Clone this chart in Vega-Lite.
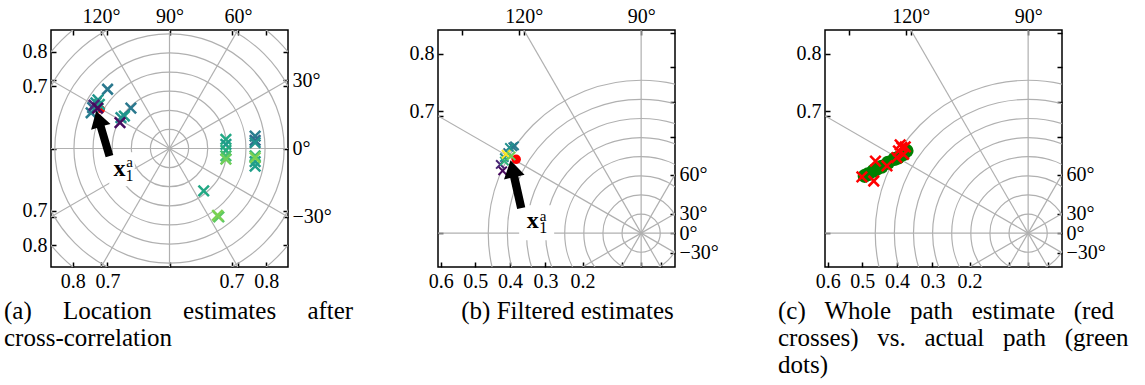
{
  "$schema": "https://vega.github.io/schema/vega-lite/v6.json",
  "background": "white",
  "padding": {"left": 3, "top": 5, "right": 0, "bottom": 0},
  "bounds": "flush",
  "spacing": 150,
  "datasets": {
    "rings": [{"r": 0.1}, {"r": 0.2}, {"r": 0.3}, {"r": 0.4}, {"r": 0.5}, {"r": 0.6}, {"r": 0.7}, {"r": 0.8}],
    "rays": [
      {"deg": 0, "ox": 0, "oy": 0, "ex": 1.2, "ey": 0}, {"deg": 30, "ox": 0, "oy": 0, "ex": 1.0392, "ey": 0.6},
      {"deg": 60, "ox": 0, "oy": 0, "ex": 0.6, "ey": 1.0392}, {"deg": 90, "ox": 0, "oy": 0, "ex": 0, "ey": 1.2},
      {"deg": 120, "ox": 0, "oy": 0, "ex": -0.6, "ey": 1.0392}, {"deg": 150, "ox": 0, "oy": 0, "ex": -1.0392, "ey": 0.6},
      {"deg": 180, "ox": 0, "oy": 0, "ex": -1.2, "ey": 0}, {"deg": 210, "ox": 0, "oy": 0, "ex": -1.0392, "ey": -0.6},
      {"deg": 240, "ox": 0, "oy": 0, "ex": -0.6, "ey": -1.0392}, {"deg": 270, "ox": 0, "oy": 0, "ex": 0, "ey": -1.2},
      {"deg": 300, "ox": 0, "oy": 0, "ex": 0.6, "ey": -1.0392}, {"deg": 330, "ox": 0, "oy": 0, "ex": 1.0392, "ey": -0.6}
    ],
    "crossesA": [
      {"x": -0.385, "y": 0.239, "t": 0.5}, {"x": -0.324, "y": 0.31, "t": 0.4}, {"x": -0.402, "y": 0.214, "t": 0.38},
      {"x": -0.41, "y": 0.187, "t": 0.42}, {"x": -0.367, "y": 0.231, "t": 0.58}, {"x": -0.374, "y": 0.254, "t": 0.52},
      {"x": -0.395, "y": 0.227, "t": 0.1}, {"x": -0.376, "y": 0.211, "t": 0.02},
      {"x": -0.202, "y": 0.211, "t": 0.4}, {"x": -0.236, "y": 0.17, "t": 0.55}, {"x": -0.254, "y": 0.161, "t": 0.5},
      {"x": -0.259, "y": 0.135, "t": 0.03},
      {"x": 0.295, "y": 0.048, "t": 0.6}, {"x": 0.295, "y": 0.022, "t": 0.55}, {"x": 0.295, "y": -0.01, "t": 0.62},
      {"x": 0.295, "y": -0.039, "t": 0.7}, {"x": 0.295, "y": -0.056, "t": 0.78},
      {"x": 0.448, "y": 0.065, "t": 0.42}, {"x": 0.448, "y": 0.043, "t": 0.33}, {"x": 0.448, "y": 0.031, "t": 0.5},
      {"x": 0.448, "y": -0.069, "t": 0.55}, {"x": 0.448, "y": -0.092, "t": 0.56}, {"x": 0.448, "y": -0.039, "t": 0.68},
      {"x": 0.448, "y": -0.048, "t": 0.8},
      {"x": 0.179, "y": -0.222, "t": 0.6}, {"x": 0.258, "y": -0.358, "t": 0.75}, {"x": 0.251, "y": -0.35, "t": 0.8}
    ],
    "truthA": [{"x": -0.358, "y": 0.205}],
    "noteA": [{"x": -0.2485, "y": -0.1083}],
    "arrowA": [{"x": -0.349, "y": 0.0784}],
    "crossesB": [
      {"x": -0.409, "y": 0.184, "t": 0.02}, {"x": -0.416, "y": 0.203, "t": 0.1}, {"x": -0.404, "y": 0.223, "t": 0.5},
      {"x": -0.394, "y": 0.238, "t": 0.35}, {"x": -0.379, "y": 0.255, "t": 0.4}, {"x": -0.374, "y": 0.258, "t": 0.42},
      {"x": -0.389, "y": 0.253, "t": 0.5}, {"x": -0.404, "y": 0.213, "t": 0.65}, {"x": -0.399, "y": 0.233, "t": 1.0},
      {"x": -0.384, "y": 0.228, "t": 0.78}
    ],
    "truthB": [{"x": -0.369, "y": 0.218}],
    "noteB": [{"x": -0.3086, "y": 0.0304}],
    "arrowB": [{"x": -0.37, "y": 0.1444}],
    "pathActual": [
      {"x": -0.483, "y": 0.169}, {"x": -0.473, "y": 0.174}, {"x": -0.457, "y": 0.184}, {"x": -0.448, "y": 0.189},
      {"x": -0.433, "y": 0.196}, {"x": -0.414, "y": 0.208}, {"x": -0.395, "y": 0.219}, {"x": -0.384, "y": 0.223},
      {"x": -0.369, "y": 0.233}, {"x": -0.359, "y": 0.243}
    ],
    "pathEstimate": [
      {"x": -0.491, "y": 0.166}, {"x": -0.456, "y": 0.154}, {"x": -0.451, "y": 0.213}, {"x": -0.417, "y": 0.199},
      {"x": -0.388, "y": 0.223}, {"x": -0.373, "y": 0.253}, {"x": -0.368, "y": 0.233}, {"x": -0.378, "y": 0.261},
      {"x": -0.363, "y": 0.255}, {"x": -0.383, "y": 0.243}
    ]
  },
  "hconcat": [
    {
      "width": 237,
      "height": 237,
      "title": {
        "text": ["(a)\u00a0\u00a0\u00a0\u00a0\u00a0Location\u00a0\u00a0\u00a0\u00a0\u00a0estimates\u00a0\u00a0\u00a0\u00a0\u00a0after", "cross-correlation"],
        "anchor": "start", "dx": -47,
        "font": "Liberation Serif, DejaVu Serif, serif", "fontSize": 25, "fontWeight": "normal", "color": "black", "orient": "bottom", "frame": "group", "lineHeight": 27, "offset": 8
      },
      "layer": [
        {
          "data": {"name": "rings"},
          "mark": {"type": "point", "shape": "circle", "filled": false, "stroke": "#b0b0b0", "strokeWidth": 1.2, "opacity": 1, "clip": true},
          "encoding": {
            "x": {"datum": 0, "type": "quantitative", "scale": {"domain": [-0.62, 0.62], "nice": false, "zero": false},
              "axis": {"orient": "bottom", "title": null, "labelFont": "Liberation Serif, DejaVu Serif, serif", "labelFontSize": 20, "values": [-0.5056, -0.358, -0.325, 0, 0.325, 0.358, 0.5056],
                "labelExpr": "abs(datum.value) == 0.5056 ? '0.8' : abs(datum.value) == 0.325 ? '0.7' : ''"}},
            "y": {"datum": 0, "type": "quantitative", "scale": {"domain": [-0.62, 0.62], "nice": false, "zero": false},
              "axis": {"orient": "left", "title": null, "labelFont": "Liberation Serif, DejaVu Serif, serif", "labelFontSize": 20, "values": [-0.5056, -0.358, -0.325, 0, 0.325, 0.358, 0.5056],
                "labelExpr": "abs(datum.value) == 0.5056 ? '0.8' : abs(datum.value) == 0.325 ? '0.7' : ''"}},
            "size": {"field": "r", "type": "quantitative", "legend": null,
              "scale": {"type": "pow", "exponent": 2, "domain": [0, 1], "range": [0, 146078]}}
          }
        },
        {
          "data": {"name": "rays"},
          "mark": {"type": "rule", "stroke": "#b0b0b0", "strokeWidth": 1.2, "clip": true},
          "encoding": {
            "x": {"field": "ox", "type": "quantitative", "scale": {"domain": [-0.62, 0.62], "nice": false, "zero": false},
              "axis": {"orient": "top", "title": null, "labelFont": "Liberation Serif, DejaVu Serif, serif", "labelFontSize": 20, "values": [-0.5056, -0.358, -0.325, 0, 0.325, 0.358, 0.5056],
                "labelExpr": "datum.value == -0.358 ? '120°' : datum.value == 0 ? '90°' : datum.value == 0.358 ? '60°' : ''"}},
            "y": {"field": "oy", "type": "quantitative", "scale": {"domain": [-0.62, 0.62], "nice": false, "zero": false},
              "axis": {"orient": "right", "title": null, "labelFont": "Liberation Serif, DejaVu Serif, serif", "labelFontSize": 20, "values": [-0.5056, -0.358, -0.325, 0, 0.325, 0.358, 0.5056],
                "labelExpr": "datum.value == 0.358 ? '30°' : datum.value == 0 ? '0°' : datum.value == -0.358 ? '−30°' : ''"}},
            "x2": {"field": "ex"},
            "y2": {"field": "ey"}
          }
        },
        {
          "data": {"name": "noteA"},
          "mark": {"type": "point", "shape": "M-0.75,-1L0.75,-1L0.75,1L-0.75,1Z", "filled": true, "fill": "white", "strokeWidth": 0, "size": 1156, "opacity": 1},
          "encoding": {
            "x": {"field": "x", "type": "quantitative", "scale": {"domain": [-0.62, 0.62], "nice": false, "zero": false}, "axis": null},
            "y": {"field": "y", "type": "quantitative", "scale": {"domain": [-0.62, 0.62], "nice": false, "zero": false}, "axis": null}
          }
        },
        {
          "data": {"name": "truthA"},
          "mark": {"type": "point", "shape": "circle", "filled": true, "color": "red", "size": 60, "opacity": 1},
          "encoding": {
            "x": {"field": "x", "type": "quantitative", "scale": {"domain": [-0.62, 0.62], "nice": false, "zero": false}, "axis": null},
            "y": {"field": "y", "type": "quantitative", "scale": {"domain": [-0.62, 0.62], "nice": false, "zero": false}, "axis": null}
          }
        },
        {
          "data": {"name": "crossesA"},
          "mark": {"type": "point", "shape": "M-1,-1L1,1M-1,1L1,-1", "filled": false, "strokeWidth": 2.5, "size": 110, "opacity": 1},
          "encoding": {
            "x": {"field": "x", "type": "quantitative", "scale": {"domain": [-0.62, 0.62], "nice": false, "zero": false}, "axis": null},
            "y": {"field": "y", "type": "quantitative", "scale": {"domain": [-0.62, 0.62], "nice": false, "zero": false}, "axis": null},
            "color": {"field": "t", "type": "quantitative", "scale": {"scheme": "viridis", "domain": [0, 1]}, "legend": null}
          }
        },
        {
          "data": {"name": "arrowA"},
          "mark": {"type": "point", "shape": "M0,-1L0.43,-0.3L0.17,-0.3L0.17,1L-0.17,1L-0.17,-0.3L-0.43,-0.3Z", "filled": true, "fill": "black", "strokeWidth": 0, "size": 2209, "angle": 343.5, "opacity": 1},
          "encoding": {
            "x": {"field": "x", "type": "quantitative", "scale": {"domain": [-0.62, 0.62], "nice": false, "zero": false}, "axis": null},
            "y": {"field": "y", "type": "quantitative", "scale": {"domain": [-0.62, 0.62], "nice": false, "zero": false}, "axis": null}
          }
        },
        {
          "data": {"name": "noteA"},
          "mark": {"type": "text", "text": "x", "font": "Liberation Serif, DejaVu Serif, serif", "fontWeight": "bold", "fontSize": 24, "align": "center", "baseline": "alphabetic", "dx": -2.5, "dy": 7, "color": "black"},
          "encoding": {
            "x": {"field": "x", "type": "quantitative", "scale": {"domain": [-0.62, 0.62], "nice": false, "zero": false}, "axis": null},
            "y": {"field": "y", "type": "quantitative", "scale": {"domain": [-0.62, 0.62], "nice": false, "zero": false}, "axis": null}
          }
        },
        {
          "data": {"name": "noteA"},
          "mark": {"type": "text", "text": "1", "font": "Liberation Serif, DejaVu Serif, serif", "fontSize": 16, "align": "center", "baseline": "alphabetic", "dx": 7.5, "dy": 12, "color": "black"},
          "encoding": {
            "x": {"field": "x", "type": "quantitative", "scale": {"domain": [-0.62, 0.62], "nice": false, "zero": false}, "axis": null},
            "y": {"field": "y", "type": "quantitative", "scale": {"domain": [-0.62, 0.62], "nice": false, "zero": false}, "axis": null}
          }
        },
        {
          "data": {"name": "noteA"},
          "mark": {"type": "text", "text": "a", "font": "Liberation Serif, DejaVu Serif, serif", "fontSize": 15, "align": "center", "baseline": "alphabetic", "dx": 7.5, "dy": -2.3, "color": "black"},
          "encoding": {
            "x": {"field": "x", "type": "quantitative", "scale": {"domain": [-0.62, 0.62], "nice": false, "zero": false}, "axis": null},
            "y": {"field": "y", "type": "quantitative", "scale": {"domain": [-0.62, 0.62], "nice": false, "zero": false}, "axis": null}
          }
        }
      ],
      "resolve": {"axis": {"x": "independent", "y": "independent"}}
    },
    {
      "width": 237,
      "height": 237,
      "title": {
        "text": "(b) Filtered estimates", "anchor": "middle", "dx": 11,
        "font": "Liberation Serif, DejaVu Serif, serif", "fontSize": 25, "fontWeight": "normal", "color": "black", "orient": "bottom", "frame": "group", "lineHeight": 27, "offset": 8
      },
      "layer": [
        {
          "data": {"name": "rings"},
          "mark": {"type": "point", "shape": "circle", "filled": false, "stroke": "#b0b0b0", "strokeWidth": 1.2, "opacity": 1, "clip": true},
          "encoding": {
            "x": {"datum": 0, "type": "quantitative", "scale": {"domain": [-0.6, 0.1], "nice": false, "zero": false},
              "axis": {"orient": "bottom", "title": null, "labelFont": "Liberation Serif, DejaVu Serif, serif", "labelFontSize": 20, "values": [-0.5916, -0.4899, -0.3873, -0.2828, -0.1732, -0.0577, 0, 0.0577],
                "labelExpr": "datum.value == -0.5916 ? '0.6' : datum.value == -0.4899 ? '0.5' : datum.value == -0.3873 ? '0.4' : datum.value == -0.2828 ? '0.3' : datum.value == -0.1732 ? '0.2' : ''"}},
            "y": {"datum": 0, "type": "quantitative", "scale": {"domain": [-0.1, 0.6], "nice": false, "zero": false},
              "axis": {"orient": "left", "title": null, "labelFont": "Liberation Serif, DejaVu Serif, serif", "labelFontSize": 20, "values": [0, 0.3464, 0.3606, 0.5292],
                "labelExpr": "datum.value == 0.5292 ? '0.8' : datum.value == 0.3606 ? '0.7' : ''"}},
            "size": {"field": "r", "type": "quantitative", "legend": null,
              "scale": {"type": "pow", "exponent": 2, "domain": [0, 1], "range": [0, 458606]}}
          }
        },
        {
          "data": {"name": "rays"},
          "mark": {"type": "rule", "stroke": "#b0b0b0", "strokeWidth": 1.2, "clip": true},
          "encoding": {
            "x": {"field": "ox", "type": "quantitative", "scale": {"domain": [-0.6, 0.1], "nice": false, "zero": false},
              "axis": {"orient": "top", "title": null, "labelFont": "Liberation Serif, DejaVu Serif, serif", "labelFontSize": 20, "values": [-0.5292, -0.3606, -0.3464, 0],
                "labelExpr": "datum.value == -0.3464 ? '120°' : datum.value == 0 ? '90°' : ''"}},
            "y": {"field": "oy", "type": "quantitative", "scale": {"domain": [-0.1, 0.6], "nice": false, "zero": false},
              "axis": {"orient": "right", "title": null, "labelFont": "Liberation Serif, DejaVu Serif, serif", "labelFontSize": 20, "values": [0.5916, 0.4899, 0.3873, 0.2828, 0.1732, 0.0577, 0, -0.0577],
                "labelExpr": "datum.value == 0.1732 ? '60°' : datum.value == 0.0577 ? '30°' : datum.value == 0 ? '0°' : datum.value == -0.0577 ? '−30°' : ''"}},
            "x2": {"field": "ex"},
            "y2": {"field": "ey"}
          }
        },
        {
          "data": {"name": "noteB"},
          "mark": {"type": "point", "shape": "M-1,-1L1,-1L1,1L-1,1Z", "filled": true, "fill": "white", "strokeWidth": 0, "size": 1225, "opacity": 1},
          "encoding": {
            "x": {"field": "x", "type": "quantitative", "scale": {"domain": [-0.6, 0.1], "nice": false, "zero": false}, "axis": null},
            "y": {"field": "y", "type": "quantitative", "scale": {"domain": [-0.1, 0.6], "nice": false, "zero": false}, "axis": null}
          }
        },
        {
          "data": {"name": "truthB"},
          "mark": {"type": "point", "shape": "circle", "filled": true, "color": "red", "size": 90, "opacity": 1},
          "encoding": {
            "x": {"field": "x", "type": "quantitative", "scale": {"domain": [-0.6, 0.1], "nice": false, "zero": false}, "axis": null},
            "y": {"field": "y", "type": "quantitative", "scale": {"domain": [-0.1, 0.6], "nice": false, "zero": false}, "axis": null}
          }
        },
        {
          "data": {"name": "crossesB"},
          "mark": {"type": "point", "shape": "M-1,-1L1,1M-1,1L1,-1", "filled": false, "strokeWidth": 2, "size": 70, "opacity": 1},
          "encoding": {
            "x": {"field": "x", "type": "quantitative", "scale": {"domain": [-0.6, 0.1], "nice": false, "zero": false}, "axis": null},
            "y": {"field": "y", "type": "quantitative", "scale": {"domain": [-0.1, 0.6], "nice": false, "zero": false}, "axis": null},
            "color": {"field": "t", "type": "quantitative", "scale": {"scheme": "viridis", "domain": [0, 1]}, "legend": null}
          }
        },
        {
          "data": {"name": "arrowB"},
          "mark": {"type": "point", "shape": "M0,-1L0.43,-0.3L0.17,-0.3L0.17,1L-0.17,1L-0.17,-0.3L-0.43,-0.3Z", "filled": true, "fill": "black", "strokeWidth": 0, "size": 2401, "angle": 347.4, "opacity": 1},
          "encoding": {
            "x": {"field": "x", "type": "quantitative", "scale": {"domain": [-0.6, 0.1], "nice": false, "zero": false}, "axis": null},
            "y": {"field": "y", "type": "quantitative", "scale": {"domain": [-0.1, 0.6], "nice": false, "zero": false}, "axis": null}
          }
        },
        {
          "data": {"name": "noteB"},
          "mark": {"type": "text", "text": "x", "font": "Liberation Serif, DejaVu Serif, serif", "fontWeight": "bold", "fontSize": 24, "align": "center", "baseline": "alphabetic", "dx": -3.8, "dy": 4.7, "color": "black"},
          "encoding": {
            "x": {"field": "x", "type": "quantitative", "scale": {"domain": [-0.6, 0.1], "nice": false, "zero": false}, "axis": null},
            "y": {"field": "y", "type": "quantitative", "scale": {"domain": [-0.1, 0.6], "nice": false, "zero": false}, "axis": null}
          }
        },
        {
          "data": {"name": "noteB"},
          "mark": {"type": "text", "text": "1", "font": "Liberation Serif, DejaVu Serif, serif", "fontSize": 16, "align": "center", "baseline": "alphabetic", "dx": 6.5, "dy": 9.7, "color": "black"},
          "encoding": {
            "x": {"field": "x", "type": "quantitative", "scale": {"domain": [-0.6, 0.1], "nice": false, "zero": false}, "axis": null},
            "y": {"field": "y", "type": "quantitative", "scale": {"domain": [-0.1, 0.6], "nice": false, "zero": false}, "axis": null}
          }
        },
        {
          "data": {"name": "noteB"},
          "mark": {"type": "text", "text": "a", "font": "Liberation Serif, DejaVu Serif, serif", "fontSize": 15, "align": "center", "baseline": "alphabetic", "dx": 6.5, "dy": -2, "color": "black"},
          "encoding": {
            "x": {"field": "x", "type": "quantitative", "scale": {"domain": [-0.6, 0.1], "nice": false, "zero": false}, "axis": null},
            "y": {"field": "y", "type": "quantitative", "scale": {"domain": [-0.1, 0.6], "nice": false, "zero": false}, "axis": null}
          }
        }
      ],
      "resolve": {"axis": {"x": "independent", "y": "independent"}}
    },
    {
      "width": 237,
      "height": 237,
      "title": {
        "text": ["(c)\u00a0\u00a0\u00a0Whole\u00a0\u00a0\u00a0path\u00a0\u00a0\u00a0estimate\u00a0\u00a0\u00a0(red", "crosses)\u00a0\u00a0\u00a0vs.\u00a0\u00a0\u00a0actual\u00a0\u00a0\u00a0path\u00a0\u00a0\u00a0(green", "dots)"],
        "anchor": "start", "dx": -47,
        "font": "Liberation Serif, DejaVu Serif, serif", "fontSize": 25, "fontWeight": "normal", "color": "black", "orient": "bottom", "frame": "group", "lineHeight": 27, "offset": 8
      },
      "layer": [
        {
          "data": {"name": "rings"},
          "mark": {"type": "point", "shape": "circle", "filled": false, "stroke": "#b0b0b0", "strokeWidth": 1.2, "opacity": 1, "clip": true},
          "encoding": {
            "x": {"datum": 0, "type": "quantitative", "scale": {"domain": [-0.6, 0.1], "nice": false, "zero": false},
              "axis": {"orient": "bottom", "title": null, "labelFont": "Liberation Serif, DejaVu Serif, serif", "labelFontSize": 20, "values": [-0.5916, -0.4899, -0.3873, -0.2828, -0.1732, -0.0577, 0, 0.0577],
                "labelExpr": "datum.value == -0.5916 ? '0.6' : datum.value == -0.4899 ? '0.5' : datum.value == -0.3873 ? '0.4' : datum.value == -0.2828 ? '0.3' : datum.value == -0.1732 ? '0.2' : ''"}},
            "y": {"datum": 0, "type": "quantitative", "scale": {"domain": [-0.1, 0.6], "nice": false, "zero": false},
              "axis": {"orient": "left", "title": null, "labelFont": "Liberation Serif, DejaVu Serif, serif", "labelFontSize": 20, "values": [0, 0.3464, 0.3606, 0.5292],
                "labelExpr": "datum.value == 0.5292 ? '0.8' : datum.value == 0.3606 ? '0.7' : ''"}},
            "size": {"field": "r", "type": "quantitative", "legend": null,
              "scale": {"type": "pow", "exponent": 2, "domain": [0, 1], "range": [0, 458606]}}
          }
        },
        {
          "data": {"name": "rays"},
          "mark": {"type": "rule", "stroke": "#b0b0b0", "strokeWidth": 1.2, "clip": true},
          "encoding": {
            "x": {"field": "ox", "type": "quantitative", "scale": {"domain": [-0.6, 0.1], "nice": false, "zero": false},
              "axis": {"orient": "top", "title": null, "labelFont": "Liberation Serif, DejaVu Serif, serif", "labelFontSize": 20, "values": [-0.5292, -0.3606, -0.3464, 0],
                "labelExpr": "datum.value == -0.3464 ? '120°' : datum.value == 0 ? '90°' : ''"}},
            "y": {"field": "oy", "type": "quantitative", "scale": {"domain": [-0.1, 0.6], "nice": false, "zero": false},
              "axis": {"orient": "right", "title": null, "labelFont": "Liberation Serif, DejaVu Serif, serif", "labelFontSize": 20, "values": [0.5916, 0.4899, 0.3873, 0.2828, 0.1732, 0.0577, 0, -0.0577],
                "labelExpr": "datum.value == 0.1732 ? '60°' : datum.value == 0.0577 ? '30°' : datum.value == 0 ? '0°' : datum.value == -0.0577 ? '−30°' : ''"}},
            "x2": {"field": "ex"},
            "y2": {"field": "ey"}
          }
        },
        {
          "data": {"name": "pathActual"},
          "mark": {"type": "point", "shape": "circle", "filled": true, "color": "#008000", "size": 196, "opacity": 1},
          "encoding": {
            "x": {"field": "x", "type": "quantitative", "scale": {"domain": [-0.6, 0.1], "nice": false, "zero": false}, "axis": null},
            "y": {"field": "y", "type": "quantitative", "scale": {"domain": [-0.1, 0.6], "nice": false, "zero": false}, "axis": null}
          }
        },
        {
          "data": {"name": "pathEstimate"},
          "mark": {"type": "point", "shape": "M-1,-1L1,1M-1,1L1,-1", "filled": false, "stroke": "red", "strokeWidth": 2.5, "size": 110, "opacity": 1},
          "encoding": {
            "x": {"field": "x", "type": "quantitative", "scale": {"domain": [-0.6, 0.1], "nice": false, "zero": false}, "axis": null},
            "y": {"field": "y", "type": "quantitative", "scale": {"domain": [-0.1, 0.6], "nice": false, "zero": false}, "axis": null}
          }
        }
      ],
      "resolve": {"axis": {"x": "independent", "y": "independent"}}
    }
  ],
  "config": {
    "font": "Liberation Serif, DejaVu Serif, serif",
    "view": {"stroke": "black", "strokeWidth": 1.5},
    "axis": {
      "domain": false,
      "grid": false,
      "ticks": true,
      "tickColor": "black",
      "tickWidth": 1.5,
      "tickSize": -5,
      "labelPadding": 9,
      "labelColor": "black",
      "labelOverlap": false,
      "labelFlush": false,
      "labelBound": false,
      "zindex": 1
    }
  }
}
